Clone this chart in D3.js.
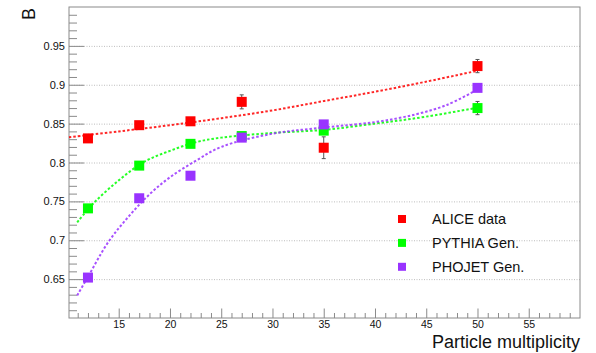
<!DOCTYPE html>
<html><head><meta charset="utf-8">
<script src="https://cdn.jsdelivr.net/npm/d3@7"></script>
<style>
html,body{margin:0;padding:0;background:#fff;}
svg{display:block;font-family:"Liberation Sans",Arial,Helvetica,sans-serif;}
</style></head><body>
<svg id="chart" width="596" height="353"></svg>
<script>
// Multiplicity bins and B values for each sample
const multiplicity = [12, 17, 22, 27, 35, 50];
const aliceB    = [0.831, 0.848, 0.853, 0.878, 0.819, 0.924];
const aliceErr  = [0.004, 0.004, 0.004, 0.009, 0.014, 0.0085];
const pythiaB   = [0.741, 0.796, 0.824, 0.834, 0.841, 0.870];
const pythiaErr = [0.003, 0.003, 0.003, 0.003, 0.004, 0.0085];
const phojetB   = [0.652, 0.754, 0.783, 0.832, 0.849, 0.896];
const phojetErr = [0.003, 0.003, 0.003, 0.003, 0.003, 0.004];

// Fit curves, sampled as [multiplicity, B]
const aliceFit = [[10.15,0.8325],[15,0.840],[20,0.848],[25,0.857],[30,0.867],[35,0.879],[40,0.891],[45,0.904],[50,0.918]];
const pythiaFit = [[10.95,0.723],[12.5,0.747],[15,0.777],[17.5,0.801],[20,0.815],[22.5,0.826],[25,0.832],[30,0.838],[35,0.842],[40,0.850],[45,0.859],[50.6,0.872]];
const phojetFit = [[10.95,0.629],[12,0.653],[14,0.698],[16,0.731],[18,0.759],[20,0.781],[22.5,0.802],[25,0.820],[30,0.837],[35,0.845],[40,0.852],[44,0.862],[47,0.874],[49.6,0.891]];

const xTicks = [15, 20, 25, 30, 35, 40, 45, 50, 55];
const xTickLabels = ["15", "20", "25", "30", "35", "40", "45", "50", "55"];
const yTicks = [0.65, 0.7, 0.75, 0.8, 0.85, 0.9, 0.95];
const yTickLabels = ["0.65", "0.7", "0.75", "0.8", "0.85", "0.9", "0.95"];

const seriesNames  = ["ALICE data", "PYTHIA Gen.", "PHOJET Gen."];
const seriesColors = ["#ff0000", "#00ff00", "#9933ff"];

const series = [
  {name: seriesNames[0], color: seriesColors[0], values: aliceB,  errors: aliceErr,  fit: aliceFit},
  {name: seriesNames[1], color: seriesColors[1], values: pythiaB, errors: pythiaErr, fit: pythiaFit},
  {name: seriesNames[2], color: seriesColors[2], values: phojetB, errors: phojetErr, fit: phojetFit}
];

const frame = {left: 69, right: 580, top: 7, bottom: 318};
const axisColor = "#8a8a8a";

const x = d3.scaleLinear().domain([10.15, 60]).range([frame.left, frame.right]);
const y = d3.scaleLinear().domain([0.6, 1.0]).range([frame.bottom, frame.top]);

const svg = d3.select("#chart");
svg.append("rect").attr("width", 596).attr("height", 353).attr("fill", "#fff");

// horizontal grid at major y ticks
const grid = svg.append("g").attr("transform", `translate(${frame.left},0)`)
  .call(d3.axisLeft(y).tickValues(yTicks).tickSize(-(frame.right - frame.left)).tickFormat(""));
grid.select(".domain").remove();
grid.selectAll(".tick line").attr("stroke", "#bdbdbd").attr("stroke-dasharray", "1,1.5");

// frame box
svg.append("rect")
  .attr("x", frame.left).attr("y", frame.top)
  .attr("width", frame.right - frame.left).attr("height", frame.bottom - frame.top)
  .attr("fill", "none").attr("stroke", axisColor).attr("stroke-width", 1);

// y axis: minor then major ticks (pointing inward)
const yMinor = d3.range(0.61, 0.995, 0.01).filter(v => !yTicks.some(t => Math.abs(t - v) < 1e-6));
const yMinorAxis = svg.append("g").attr("transform", `translate(${frame.left},0)`)
  .call(d3.axisLeft(y).tickValues(yMinor).tickSize(-8).tickFormat(""));
const yAxis = svg.append("g").attr("transform", `translate(${frame.left},0)`)
  .call(d3.axisLeft(y).tickValues(yTicks).tickSize(-15).tickPadding(4)
    .tickFormat((d, i) => yTickLabels[i]));

// x axis: minor then major ticks (pointing inward)
const xMinor = d3.range(11, 60, 1).filter(v => !xTicks.includes(v));
const xMinorAxis = svg.append("g").attr("transform", `translate(0,${frame.bottom})`)
  .call(d3.axisBottom(x).tickValues(xMinor).tickSize(-5).tickFormat(""));
const xAxis = svg.append("g").attr("transform", `translate(0,${frame.bottom})`)
  .call(d3.axisBottom(x).tickValues(xTicks).tickSize(-9.5).tickPadding(3)
    .tickFormat((d, i) => xTickLabels[i]));

[yMinorAxis, yAxis, xMinorAxis, xAxis].forEach(g => {
  g.select(".domain").remove();
  g.selectAll(".tick line").attr("stroke", axisColor).attr("stroke-width", 1);
  g.selectAll(".tick text").attr("fill", "#111").attr("font-size", 11)
    .attr("font-family", '"Liberation Sans", Arial, Helvetica, sans-serif');
});
xAxis.selectAll(".tick text").attr("font-size", 10.5);

// axis titles
svg.append("text")
  .attr("x", frame.right).attr("y", 347.5)
  .attr("text-anchor", "end").attr("font-size", 18).attr("fill", "#111")
  .text("Particle multiplicity");
svg.append("text")
  .attr("transform", `translate(35,${frame.top + 1}) rotate(-90)`)
  .attr("text-anchor", "end").attr("font-size", 18).attr("fill", "#111")
  .text("B");

// fit curves, error bars and markers
const line = d3.line().x(d => x(d[0])).y(d => y(d[1])).curve(d3.curveCatmullRom);
const markerSize = 10;
const capHalf = 2;

series.forEach(s => {
  const g = svg.append("g");
  g.append("path").datum(s.fit).attr("d", line)
    .attr("fill", "none").attr("stroke", s.color).attr("stroke-width", 2)
    .attr("stroke-dasharray", "2.5,2").attr("opacity", 0.85);

  const pts = multiplicity.map((m, i) => ({m, v: s.values[i], e: s.errors[i]}));
  const eb = g.selectAll(".err").data(pts).enter().append("g").attr("class", "err")
    .attr("stroke", "#555").attr("stroke-width", 1);
  eb.append("line").attr("x1", d => x(d.m)).attr("x2", d => x(d.m))
    .attr("y1", d => y(d.v - d.e)).attr("y2", d => y(d.v + d.e));
  eb.append("line").attr("x1", d => x(d.m) - capHalf).attr("x2", d => x(d.m) + capHalf)
    .attr("y1", d => y(d.v + d.e)).attr("y2", d => y(d.v + d.e));
  eb.append("line").attr("x1", d => x(d.m) - capHalf).attr("x2", d => x(d.m) + capHalf)
    .attr("y1", d => y(d.v - d.e)).attr("y2", d => y(d.v - d.e));

  g.selectAll(".pt").data(pts).enter().append("rect").attr("class", "pt")
    .attr("x", d => x(d.m) - markerSize / 2).attr("y", d => y(d.v) - markerSize / 2)
    .attr("width", markerSize).attr("height", markerSize).attr("fill", s.color);
});

// legend
const legend = svg.append("g");
series.forEach((s, i) => {
  const cy = 219 + i * 23.9;
  legend.append("rect").attr("x", 402 - 4).attr("y", cy - 4).attr("width", 8).attr("height", 8)
    .attr("fill", s.color);
  legend.append("text").attr("x", 432).attr("y", cy).attr("dy", "0.36em")
    .attr("font-size", 14.5).attr("fill", "#111").text(s.name);
});
</script>
</body></html>
